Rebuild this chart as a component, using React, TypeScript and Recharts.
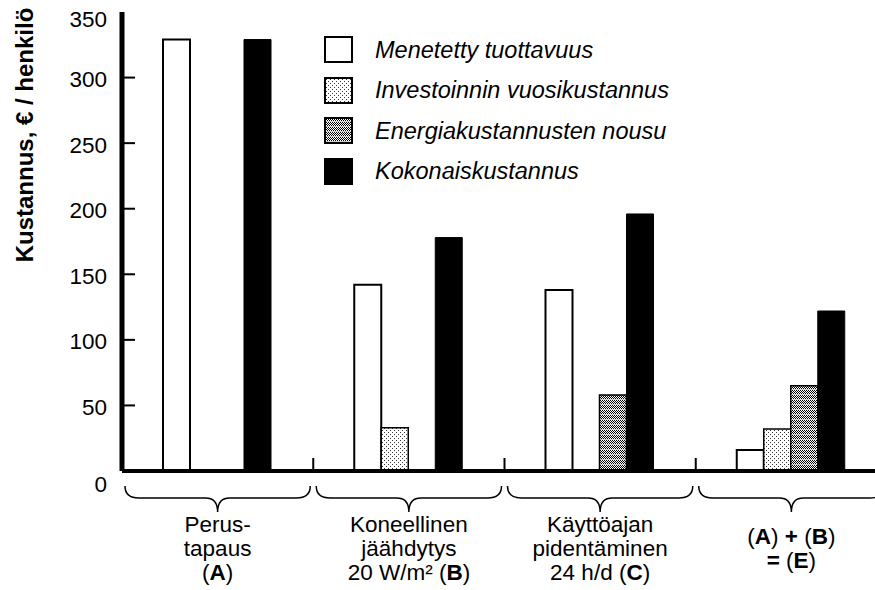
import { Bar, BarChart, ReferenceLine, XAxis, YAxis } from "recharts";

// categories (x groups) and their printed labels
const categories = ["A", "B", "C", "E"];
const categoryLines = [
  ["Perus-", "tapaus", "(A)"],
  ["Koneellinen", "jäähdytys", "20 W/m² (B)"],
  ["Käyttöajan", "pidentäminen", "24 h/d (C)"],
  ["(A) + (B)", "= (E)"],
];

// series values, € / henkilö
const lostProductivity = [329, 142, 138, 16];
const investmentCost = [null, 33, null, 32];
const energyIncrease = [null, null, 58, 65];
const totalCost = [329, 178, 196, 122];

const seriesNames = [
  "Menetetty tuottavuus",
  "Investoinnin vuosikustannus",
  "Energiakustannusten nousu",
  "Kokonaiskustannus",
];
const yTicks = [0, 50, 100, 150, 200, 250, 300, 350];

const data = categories.map((key, i) => ({
  key,
  lost: lostProductivity[i],
  invest: investmentCost[i],
  energy: energyIncrease[i],
  total: totalCost[i],
}));

const FONT = '"Liberation Sans", Arial, Helvetica, sans-serif';
const CHART_W = 900;
const CHART_H = 590;
const MARGIN = { top: 12, right: 13, bottom: 0, left: 0 };
const Y_AXIS_W = 122;
const BAND = (CHART_W - MARGIN.left - MARGIN.right - Y_AXIS_W) / categories.length;

const fills = ["#ffffff", "url(#dotFill)", "url(#checkFill)", "#000000"];

/** Renders "(A)" style references with the letter in bold. */
function richLine(text: string) {
  const parts = text.split(/([A-E+=])/);
  return parts.map((p, i) =>
    /^[A-E+=]$/.test(p) && text.includes("(") ? (
      <tspan key={i} fontWeight="bold">
        {p}
      </tspan>
    ) : (
      <tspan key={i}>{p}</tspan>
    )
  );
}

// eslint-disable-next-line @typescript-eslint/no-explicit-any
function CategoryTick({ x, y, payload }: any) {
  const idx = categories.indexOf(payload?.value);
  const lines = categoryLines[idx] ?? [];
  const left = x - BAND / 2;
  const x0 = left + 3;
  const x1 = x + BAND / 2 - 3;
  const top = y + 15;
  const mid = y + 27;
  const tip = y + 41;
  const brace = `M${x0},${top} Q${x0},${mid} ${x0 + 14},${mid} L${x - 12},${mid} Q${x},${mid} ${x},${tip} Q${x},${mid} ${x + 12},${mid} L${x1 - 14},${mid} Q${x1},${mid} ${x1},${top}`;
  const lineH = 24;
  const firstY = y + 77 - ((lines.length - 1) * lineH) / 2;
  return (
    <g>
      {idx > 0 && (
        <line x1={left} x2={left} y1={y - 1} y2={y - 13} stroke="#000" strokeWidth={2} />
      )}
      <path d={brace} fill="none" stroke="#000" strokeWidth={1.5} />
      <text x={x} textAnchor="middle" fontFamily={FONT} fontSize={22.5} fill="#000">
        {lines.map((line, i) => (
          <tspan key={i} x={x} y={firstY + i * lineH} dominantBaseline="central">
            {richLine(line)}
          </tspan>
        ))}
      </text>
    </g>
  );
}

// eslint-disable-next-line @typescript-eslint/no-explicit-any
function ValueTick({ y, payload }: any) {
  const v = payload?.value;
  const dy = v === 0 ? 13 : v === 350 ? 7 : 2;
  return (
    <text
      x={107}
      y={y + dy}
      textAnchor="end"
      dominantBaseline="central"
      fontFamily={FONT}
      fontSize={22.5}
      fill="#000"
    >
      {v}
    </text>
  );
}

/** Short inward tick drawn from the left end of a reference line. */
// eslint-disable-next-line @typescript-eslint/no-explicit-any
function InnerTick(props: any) {
  const { x1, y1 } = props;
  return <path d={`M${x1},${y1}h13`} stroke="#000" strokeWidth={2} fill="none" />;
}

function YLabel() {
  return (
    <text
      transform="translate(24,135) rotate(-90)"
      textAnchor="middle"
      dominantBaseline="central"
      fontFamily={FONT}
      fontSize={24}
      fontWeight="bold"
      fill="#000"
    >
      Kustannus, € / henkilö
    </text>
  );
}

function Patterns() {
  return (
    <svg width={0} height={0} style={{ position: "absolute" }}>
      <defs>
        <pattern id="dotFill" patternUnits="userSpaceOnUse" width={4} height={4}>
          <rect width={4} height={4} fill="#fff" />
          <rect x={0} y={0} width={1} height={1} fill="#333" />
          <rect x={2} y={2} width={1} height={1} fill="#333" />
        </pattern>
        <pattern id="checkFill" patternUnits="userSpaceOnUse" width={2} height={5}>
          <rect width={2} height={5} fill="#fff" />
          <rect x={0} y={0} width={1} height={1} fill="#000" />
          <rect x={1} y={1} width={1} height={1} fill="#000" />
          <rect x={0} y={2} width={1} height={1} fill="#000" />
          <rect x={1} y={3} width={1} height={1} fill="#000" />
          <rect x={0} y={4} width={2} height={1} fill="#d0d0d0" />
        </pattern>
      </defs>
    </svg>
  );
}

function LegendBox() {
  return (
    <div style={{ position: "absolute", left: 324, top: 30 }}>
      {seriesNames.map((name, i) => (
        <div key={name} style={{ display: "flex", alignItems: "center", height: 40.5 }}>
          <svg width={30} height={28}>
            <rect x={1} y={1} width={27} height={25} fill={fills[i]} stroke="#000" strokeWidth={2} />
          </svg>
          <span
            style={{
              marginLeft: 21,
              fontFamily: FONT,
              fontStyle: "italic",
              fontSize: 23.5,
              color: "#000",
              whiteSpace: "nowrap",
            }}
          >
            {name}
          </span>
        </div>
      ))}
    </div>
  );
}

export default function App() {
  return (
    <div
      style={{
        position: "absolute",
        left: 0,
        top: 0,
        width: 875,
        height: 590,
        overflow: "hidden",
        background: "#fff",
      }}
    >
      <Patterns />
      <BarChart
        width={CHART_W}
        height={CHART_H}
        data={data}
        margin={MARGIN}
        barCategoryGap={41}
        barGap={0}
      >
        <XAxis
          xAxisId="top"
          orientation="top"
          dataKey="key"
          height={0}
          tick={false}
          tickLine={false}
          axisLine={{ stroke: "#000", strokeWidth: 2 }}
        />
        <XAxis
          dataKey="key"
          height={CHART_H - MARGIN.top - 459}
          tickLine={false}
          tickSize={0}
          tickMargin={0}
          interval={0}
          axisLine={{ stroke: "#000", strokeWidth: 4 }}
          tick={(props) => <CategoryTick {...props} />}
        />
        <YAxis
          width={Y_AXIS_W}
          domain={[0, 350]}
          ticks={yTicks}
          interval={0}
          tickLine={false}
          axisLine={{ stroke: "#000", strokeWidth: 5 }}
          tick={(props) => <ValueTick {...props} />}
          label={<YLabel />}
        />
        {yTicks
          .filter((v) => v > 0 && v < 350)
          .map((v) => (
            <ReferenceLine key={v} y={v} stroke="#000" shape={InnerTick} />
          ))}
        <Bar dataKey="lost" name={seriesNames[0]} fill={fills[0]} stroke="#000" strokeWidth={2} isAnimationActive={false} />
        <Bar dataKey="invest" name={seriesNames[1]} fill={fills[1]} stroke="#000" strokeWidth={1.5} isAnimationActive={false} />
        <Bar dataKey="energy" name={seriesNames[2]} fill={fills[2]} stroke="#000" strokeWidth={1.5} isAnimationActive={false} />
        <Bar dataKey="total" name={seriesNames[3]} fill={fills[3]} stroke="#000" strokeWidth={1} isAnimationActive={false} />
      </BarChart>
      <LegendBox />
    </div>
  );
}
